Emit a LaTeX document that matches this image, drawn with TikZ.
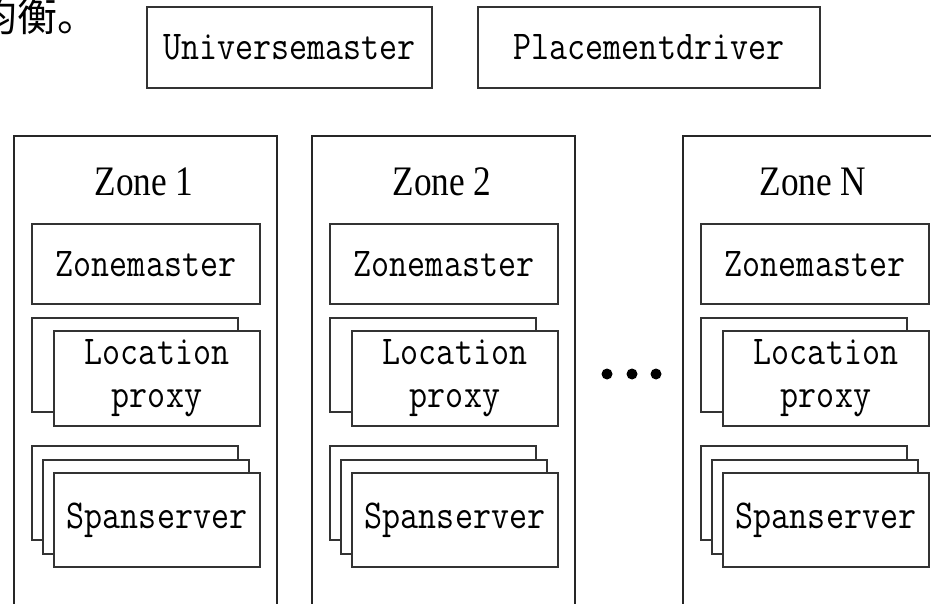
\documentclass[tikz,border=0pt]{standalone}
\usepackage{fontspec}
\setmainfont{Liberation Serif}
\newfontfamily\cjkfont{Noto Sans CJK SC}
\newcommand{\mtxt}[1]{\scalebox{1}[1.17]{\fontsize{35}{43}\selectfont\ttfamily #1}}
\newcommand{\ztxt}[1]{\scalebox{0.84}[1]{#1}}
\begin{document}
\begin{tikzpicture}[x=1pt,y=-1pt,
  every node/.style={inner sep=0pt, outer sep=0pt},
  topbox/.style={draw=black!80, line width=1.1pt, fill=white, minimum height=81pt},
  zonebox/.style={draw=black!85, line width=1.2pt, minimum width=263pt, minimum height=484pt},
  zmbox/.style={draw=black!80, line width=1.1pt, fill=white, minimum width=228pt, minimum height=80pt},
  layerbox/.style={draw=black!80, line width=1.1pt, fill=white, minimum width=206pt, minimum height=94pt},
  mono/.style={font=\fontsize{35}{43}\selectfont, align=center},
  ztitle/.style={font=\fontsize{42}{42}\selectfont, anchor=base},
  dotc/.style={circle, fill=black, minimum size=11pt}]
\useasboundingbox (0,0) rectangle (931,604);
\clip (0,0) rectangle (931,604);
% top text
\node[anchor=base west, font=\fontsize{40}{40}\selectfont\cjkfont] (cjk) at (-22,32) {均衡。};
% top boxes
\node[topbox, minimum width=285pt] (um) at (289.5,47.5) {\mtxt{Universemaster}};
\node[topbox, minimum width=342pt] (pd) at (649,47.5) {\mtxt{Placementdriver}};
% zones
\foreach \dx/\nm/\lab in {0/a/1, 298/b/2, 669/c/N}{
  \node[zonebox] (zone\nm) at (145.5+\dx,378) {};
  \node[ztitle] (title\nm) at (144+\dx,196) {\ztxt{Zone \lab}};
  \node[zmbox, mono] (zm\nm) at (146+\dx,264) {\mtxt{Zonemaster}};
  \node[layerbox] (lpb\nm) at (135+\dx,365) {};
  \node[layerbox, minimum height=95pt, mono] (lpf\nm) at (157+\dx,378.5) {\mtxt{Location}\\\mtxt{proxy}};
  \node[layerbox] (ssa\nm) at (135+\dx,493) {};
  \node[layerbox] (ssb\nm) at (146+\dx,507) {};
  \node[layerbox, mono] (ssc\nm) at (157+\dx,520) {\mtxt{Spanserver}};
}
% dots
\node[dotc] (d1) at (607,374) {};
\node[dotc] (d2) at (632,374) {};
\node[dotc] (d3) at (656,374) {};
\end{tikzpicture}
\end{document}
